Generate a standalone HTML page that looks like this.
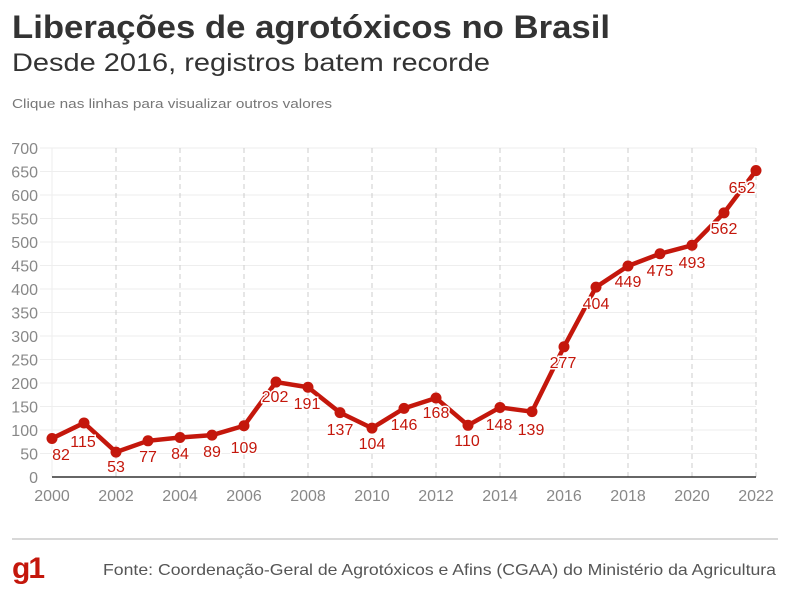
<!DOCTYPE html>
<html><head><meta charset="utf-8"><style>
body{margin:0;background:#fff;width:800px;height:592px;overflow:hidden;font-family:"Liberation Sans",sans-serif}
</style></head><body>
<svg width="800" height="592" xmlns="http://www.w3.org/2000/svg" font-family="Liberation Sans, sans-serif">
<text x="12" y="38" font-size="32" font-weight="bold" fill="#333" textLength="598" lengthAdjust="spacingAndGlyphs">Liberações de agrotóxicos no Brasil</text>
<text x="12" y="71" font-size="25" fill="#333" textLength="478" lengthAdjust="spacingAndGlyphs">Desde 2016, registros batem recorde</text>
<text x="12" y="108" font-size="13" fill="#777" textLength="320" lengthAdjust="spacingAndGlyphs">Clique nas linhas para visualizar outros valores</text>
<g id="grid"></g>
<g id="ax" font-size="16" fill="#888"></g>
<line x1="52" y1="477" x2="756" y2="477" stroke="#333" stroke-width="1.5"/>
<polyline id="ln" fill="none" stroke="#c4170c" stroke-width="4.5" stroke-linejoin="round"/>
<g id="pts" fill="#c4170c"></g>
<g id="lbl" font-size="16" fill="#c4170c" text-anchor="middle" stroke="#fff" stroke-width="3" paint-order="stroke"></g>
<line x1="12" y1="539" x2="778" y2="539" stroke="#ccc" stroke-width="1.5"/>
<text x="12" y="578" font-size="30" font-weight="bold" fill="#c4170c" letter-spacing="-2">g1</text>
<text x="103" y="575" font-size="16" fill="#555" textLength="673" lengthAdjust="spacingAndGlyphs">Fonte: Coordenação-Geral de Agrotóxicos e Afins (CGAA) do Ministério da Agricultura</text>
</svg>
<script>
const ns="http://www.w3.org/2000/svg";
function el(p,t,a,txt){const e=document.createElementNS(ns,t);for(const k in a)e.setAttribute(k,a[k]);if(txt!=null)e.textContent=txt;document.getElementById(p).appendChild(e);}
const Y=v=>477-v*0.47, X=i=>52+32*i;
for(let v=0;v<=700;v+=50){ if(v>0) el("grid","line",{x1:40,x2:756,y1:Y(v),y2:Y(v),stroke:"#eee","stroke-width":1}); el("ax","text",{x:38,y:Y(v)+6,"text-anchor":"end"},v);}
el("grid","line",{x1:52,x2:52,y1:148,y2:477,stroke:"#eee"});
for(let i=2;i<=22;i+=2) el("grid","line",{x1:X(i),x2:X(i),y1:148,y2:477,stroke:"#ccc","stroke-dasharray":"5,4"});
for(let i=0;i<=22;i+=2) el("ax","text",{x:X(i),y:501,"text-anchor":"middle"},2000+i);
const d=[82,115,53,77,84,89,109,202,191,137,104,146,168,110,148,139,277,404,449,475,493,562,652];
const L=[[61,454],[83,441],[116,466],[148,456],[180,453],[212,451],[244,447],[275,396],[307,403],[340,429],[372,443],[404,424],[436,412],[467,440],[499,424],[531,429],[563,362],[596,303],[628,281],[660,270],[692,262],[724,228],[742,187]];
document.getElementById("ln").setAttribute("points",d.map((v,i)=>X(i)+","+Y(v)).join(" "));
d.forEach((v,i)=>{el("pts","circle",{cx:X(i),cy:Y(v),r:5.5});});
d.forEach((v,i)=>{el("lbl","text",{x:L[i][0],y:L[i][1]+6},v);});
</script>
</body></html>
